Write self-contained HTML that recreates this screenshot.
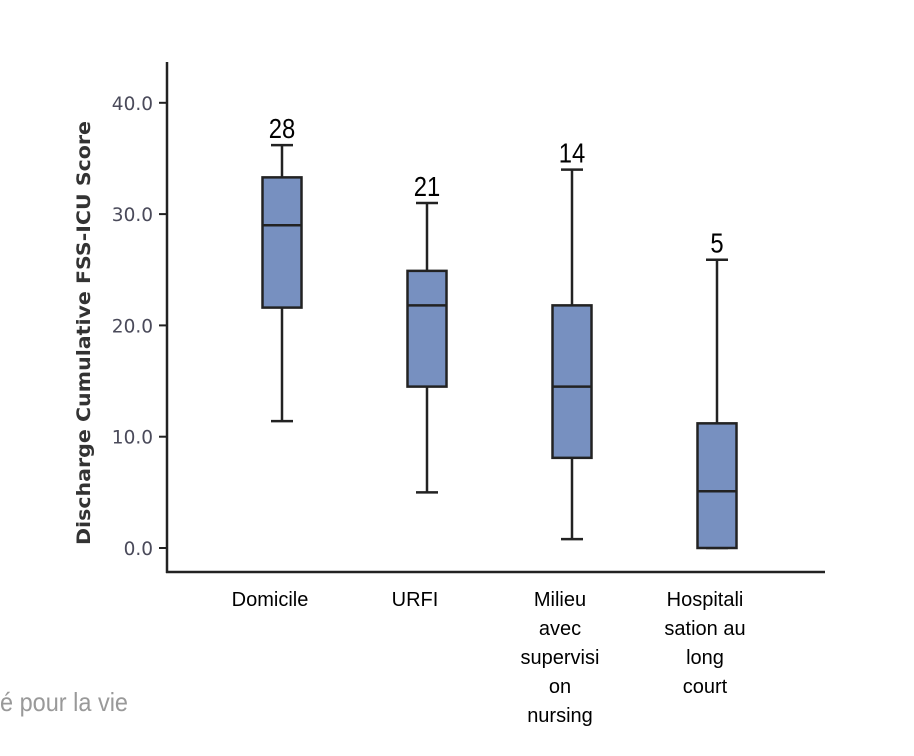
<!DOCTYPE html>
<html><head><meta charset="utf-8"><style>
body{margin:0;background:#fff;width:914px;height:756px;overflow:hidden}
svg{display:block}
</style></head><body>
<svg width="914" height="756" xmlns="http://www.w3.org/2000/svg">
<g id="axes"></g><g id="boxes"></g>
<text x="0" y="711" font-family="Liberation Sans, sans-serif" font-size="26" fill="#999" textLength="128" lengthAdjust="spacingAndGlyphs">é pour la vie</text>
</svg>
<script>
const categories=[["Domicile"],["URFI"],["Milieu","avec","supervisi","on","nursing"],["Hospitali","sation au","long","court"]];
const counts=["28","21","14","5"];
const whiskerHigh=[36.2,31.0,34.0,25.9];
const q3=[33.3,24.9,21.8,11.2];
const median=[29.0,21.8,14.5,5.1];
const q1=[21.6,14.5,8.1,0.0];
const whiskerLow=[11.4,5.0,0.8,0.0];
const yTicks=[0,10,20,30,40];
const yTickLabels=["0.0","10.0","20.0","30.0","40.0"];
const NS="http://www.w3.org/2000/svg";
const y=v=>548-v*11.13;
const x=i=>282+i*145;
function mk(tag,attrs,parent,txt){const e=document.createElementNS(NS,tag);for(const k in attrs)e.setAttribute(k,attrs[k]);if(txt!==undefined)e.textContent=txt;parent.appendChild(e);return e;}
const ax=document.getElementById('axes'),bx=document.getElementById('boxes');
let e;
e=mk('line',{x1:167,y1:62,x2:167,y2:573,stroke:'#222','stroke-width':2.5},ax);


e=mk('line',{x1:166,y1:572,x2:825,y2:572,stroke:'#222','stroke-width':2.5},ax);


yTicks.forEach((t,i)=>{
 e=mk('line',{x1:159,y1:y(t),x2:167,y2:y(t),stroke:'#222','stroke-width':2},ax);
 
 
 e=mk('text',{x:153,y:y(t)+7,'text-anchor':'end','font-family':'DejaVu Sans, sans-serif','font-size':18.5,fill:'#4a4a5a'},ax,yTickLabels[i]);
 
 
});
e=mk('text',{x:0,y:0,transform:'translate(90,333) rotate(-90)','text-anchor':'middle','font-family':'DejaVu Sans, sans-serif','font-size':19,'font-weight':'bold',fill:'#333',textLength:424,lengthAdjust:'spacingAndGlyphs'},ax,'Discharge Cumulative FSS-ICU Score');


categories.forEach((c,i)=>{
 const cx=x(i),w=39;
 const g=mk('g',{},bx);
 
 
 mk('line',{x1:cx,y1:y(whiskerHigh[i]),x2:cx,y2:y(whiskerLow[i]),stroke:'#222','stroke-width':2.5},g);
 mk('line',{x1:cx-11,y1:y(whiskerHigh[i]),x2:cx+11,y2:y(whiskerHigh[i]),stroke:'#222','stroke-width':2.5},g);
 mk('line',{x1:cx-11,y1:y(whiskerLow[i]),x2:cx+11,y2:y(whiskerLow[i]),stroke:'#222','stroke-width':2.5},g);
 mk('rect',{x:cx-w/2,y:y(q3[i]),width:w,height:y(q1[i])-y(q3[i]),fill:'#7790c0',stroke:'#222','stroke-width':2.5},g);
 mk('line',{x1:cx-w/2,y1:y(median[i]),x2:cx+w/2,y2:y(median[i]),stroke:'#222','stroke-width':2.5},g);
 e=mk('text',{x:0,y:0,transform:'translate('+cx+','+(y(whiskerHigh[i])-7)+') scale(0.85,1)','text-anchor':'middle','font-family':'Liberation Sans, sans-serif','font-size':28,fill:'#000'},bx,counts[i]);
 
 
 c.forEach((l,j)=>{
  e=mk('text',{x:cx-12,y:606+j*29,'text-anchor':'middle','font-family':'Liberation Sans, sans-serif','font-size':20,fill:'#000'},ax,l);
  
  
 });
});
</script>
</body></html>
